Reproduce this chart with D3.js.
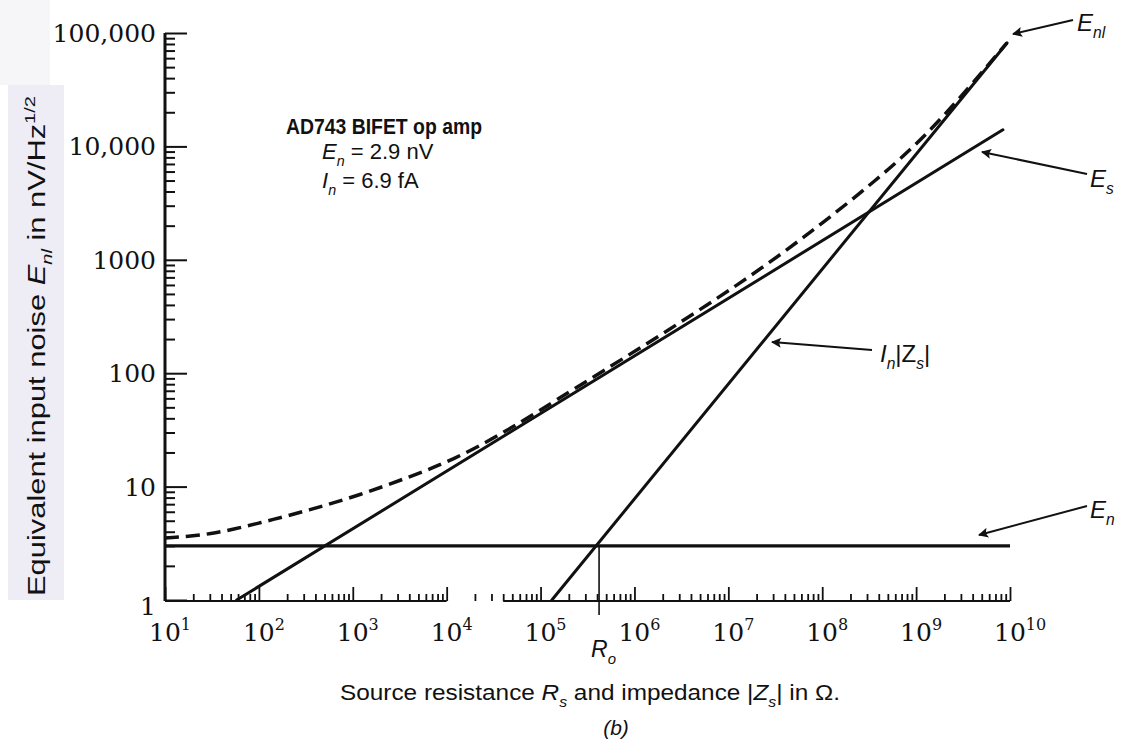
<!DOCTYPE html>
<html>
<head>
<meta charset="utf-8">
<script src="https://cdn.jsdelivr.net/npm/d3@7"></script>
<style>
body{margin:0;background:#fff}
svg{display:block}
</style>
</head>
<body>
<div id="graphique"></div>
<script>
//  Equivalent input noise vs source resistance, AD743 BIFET op amp
var width=1125, height=742;

// axes
var xExponents=[1,2,3,4,5,6,7,8,9,10];
var yTicks=[1,10,100,1000,10000,100000];
var yTickLabels=["1","10","100","1000","10,000","100,000"];
var axisGap=[1e4,4e4];          // the base line is broken here in the original

// straight lines, [R ohm, nV/Hz^1/2]
var enLine=[[10,3.0],[1e10,3.0]];
var esLine=[[58,1],[8.4e9,14000]];
var inLine=[[1.32e5,1],[9.3e9,81700]];
// dashed total noise E_nl
var enlR=[10,30,103,350,1190,4070,1.17e4,3.7e4,1.26e5,1.46e6,1.43e7,7.4e7,3.83e8,1.51e9,9.27e9];
var enlV=[3.52,3.74,4.78,6.22,8.43,12.2,17.2,28.5,53.5,188,637,1720,5060,13960,81700];
var Ro=4.2e5;

var x=d3.scaleLog().domain([10,1e10]).range([165,1010]);
var y=d3.scaleLog().domain([1,1e5]).range([600,33]);

var svg=d3.select("#graphique").append("svg")
    .attr("width",width).attr("height",height)
    .style("font-family","'Liberation Sans', Arial, sans-serif");

// scanned tint behind the y title
svg.append("rect").attr("x",0).attr("y",0).attr("width",50).attr("height",85).attr("fill","#f6f6f8");
svg.append("rect").attr("x",8).attr("y",85).attr("width",56).attr("height",515).attr("fill","#eeecf5");

// text with italic / sub / sup pieces
function rich(g,parts,fs){
    var t=g.append("text").attr("font-size",fs);
    var shift=0;
    parts.forEach(function(p){
        var s=t.append("tspan").text(p[0]);
        var small=(p[1]=="sub"||p[1]=="isub"||p[1]=="sup");
        var want=(p[1]=="sub"||p[1]=="isub")?fs*0.3:(p[1]=="sup"?-fs*0.42:0);
        if (want!=shift){ s.attr("dy",want-shift); shift=want; }
        if (small) s.attr("font-size",fs*0.65);
        if (p[1]=="i"||p[1]=="isub") s.attr("font-style","italic");
    });
    return t;
}

// ---- y axis
var yMinor=[];
for (var d=0; d<5; d++)
    for (var k=1; k<10; k++) yMinor.push(k*Math.pow(10,d));
yMinor.push(1e5);
var yAxis=svg.append("g").attr("transform","translate(165,0)")
    .call(d3.axisRight(y).tickValues(yMinor).tickFormat("").tickSizeOuter(0));
yAxis.select(".domain").remove();
yAxis.selectAll(".tick line")
    .attr("x2",function(v){ return yTicks.indexOf(v)>=0?22:10; })
    .attr("stroke","#111").attr("stroke-width",2);
svg.append("line").attr("x1",165).attr("x2",165).attr("y1",y(1e5)).attr("y2",y(1)+1)
    .attr("stroke","#111").attr("stroke-width",3);
svg.selectAll(".ylab").data(yTicks).enter().append("text")
    .attr("class","ylab")
    .attr("x",156).attr("y",function(v){ return y(v)+(v==1?6:0); })
    .attr("dy","0.36em").attr("text-anchor","end")
    .attr("font-family","'DejaVu Serif', serif").attr("font-size",25).attr("fill","#111")
    .text(function(v,i){ return yTickLabels[i]; });

// ---- x axis
var xMinor=[];
for (var e=1; e<10; e++)
    for (var k=1; k<10; k++) xMinor.push(k*Math.pow(10,e));
xMinor.push(1e10);
xMinor=xMinor.filter(function(v){ return !(v>axisGap[0] && v<2e4); });
var xAxis=svg.append("g").attr("transform","translate(0,601)")
    .call(d3.axisTop(x).tickValues(xMinor).tickFormat("").tickSizeOuter(0));
xAxis.select(".domain").remove();
xAxis.selectAll(".tick line")
    .attr("y2",function(v){ return Math.abs(Math.log10(v)-Math.round(Math.log10(v)))<1e-9?-14:-7; })
    .attr("stroke","#111").attr("stroke-width",1.8);
[[10,axisGap[0]],[axisGap[1],1e10]].forEach(function(s){
    svg.append("line").attr("x1",x(s[0])).attr("x2",x(s[1])).attr("y1",601).attr("y2",601)
        .attr("stroke","#111").attr("stroke-width",2.2);
});
xExponents.forEach(function(p){
    var t=svg.append("text")
        .attr("x",x(Math.pow(10,p))-16).attr("y",641)
        .attr("font-family","'DejaVu Serif', serif").attr("font-size",25).attr("fill","#111");
    t.append("tspan").text("10");
    t.append("tspan").attr("dy",-11).attr("font-size",16).text(p);
});

// ---- curves
var line=d3.line().x(function(d){ return x(d[0]); }).y(function(d){ return y(d[1]); });
svg.append("path").attr("d",line(enLine)).attr("fill","none").attr("stroke","#111").attr("stroke-width",3.2);
svg.append("path").attr("d",line(esLine)).attr("fill","none").attr("stroke","#111").attr("stroke-width",3)
    .attr("stroke-linecap","round");
svg.append("path").attr("d",line(inLine)).attr("fill","none").attr("stroke","#111").attr("stroke-width",3)
    .attr("stroke-linecap","round");
var enl=enlR.map(function(r,i){ return [r,enlV[i]]; });
svg.append("path").attr("d",line.curve(d3.curveBasis)(enl))
    .attr("fill","none").attr("stroke","#111").attr("stroke-width",3.5)
    .attr("stroke-dasharray","14,7");

// R_o marker
svg.append("line").attr("x1",x(Ro)).attr("x2",x(Ro)).attr("y1",y(enLine[0][1])).attr("y2",615)
    .attr("stroke","#111").attr("stroke-width",1.6);
rich(svg.append("g").attr("transform","translate("+(x(Ro)-8)+",657)"),[["R","i"],["o","isub"]],23)
    .attr("fill","#111");

// ---- annotations
svg.append("defs").append("marker").attr("id","head")
    .attr("viewBox","0 0 10 10").attr("refX",9).attr("refY",5)
    .attr("markerWidth",14).attr("markerHeight",10).attr("markerUnits","userSpaceOnUse")
    .attr("orient","auto")
    .append("path").attr("d","M0,0 L10,5 L0,10 L2,5 Z").attr("fill","#111");

var arrows=[
    {from:[1073,20],to:[1013,34],tx:1077,ty:31,parts:[["E","i"],["nl","isub"]]},
    {from:[1087,174],to:[982,152],tx:1090,ty:187,parts:[["E","i"],["s","isub"]]},
    {from:[872,350],to:[772,342],tx:880,ty:362,parts:[["I","i"],["n","isub"],["|Z",""],["s","isub"],["|",""]]},
    {from:[1087,506],to:[979,535],tx:1090,ty:518,parts:[["E","i"],["n","isub"]]}
];
arrows.forEach(function(a){
    svg.append("line").attr("x1",a.from[0]).attr("y1",a.from[1]).attr("x2",a.to[0]).attr("y2",a.to[1])
        .attr("stroke","#111").attr("stroke-width",2).attr("marker-end","url(#head)");
    rich(svg.append("g").attr("transform","translate("+a.tx+","+a.ty+")"),a.parts,24).attr("fill","#111");
});

// device box text
svg.append("text").attr("x",286).attr("y",134).attr("font-size",22).attr("font-weight","bold")
    .attr("textLength",196).attr("lengthAdjust","spacingAndGlyphs").attr("fill","#111")
    .text("AD743 BIFET op amp");
rich(svg.append("g").attr("transform","translate(322,159)"),
    [["E","i"],["n","isub"],[" = 2.9 nV",""]],22).attr("fill","#111");
rich(svg.append("g").attr("transform","translate(322,188)"),
    [["I","i"],["n","isub"],[" = 6.9 fA",""]],22).attr("fill","#111");

// ---- axis titles
rich(svg.append("g").attr("transform","translate(45,346) rotate(-90)"),
    [["Equivalent input noise ",""],["E","i"],["nl","isub"],[" in nV/Hz",""],["1/2","sup"]],23)
    .attr("text-anchor","middle").attr("textLength",500).attr("lengthAdjust","spacingAndGlyphs")
    .attr("fill","#111");
rich(svg.append("g").attr("transform","translate(590,700)"),
    [["Source resistance ",""],["R","i"],["s","isub"],[" and impedance |",""],["Z","i"],["s","isub"],["| in Ω.",""]],22)
    .attr("text-anchor","middle").attr("textLength",500).attr("lengthAdjust","spacingAndGlyphs")
    .attr("fill","#111");
svg.append("text").attr("x",616).attr("y",735).attr("text-anchor","middle")
    .attr("font-size",21).attr("font-style","italic").attr("fill","#111").text("(b)");
</script>
</body>
</html>
